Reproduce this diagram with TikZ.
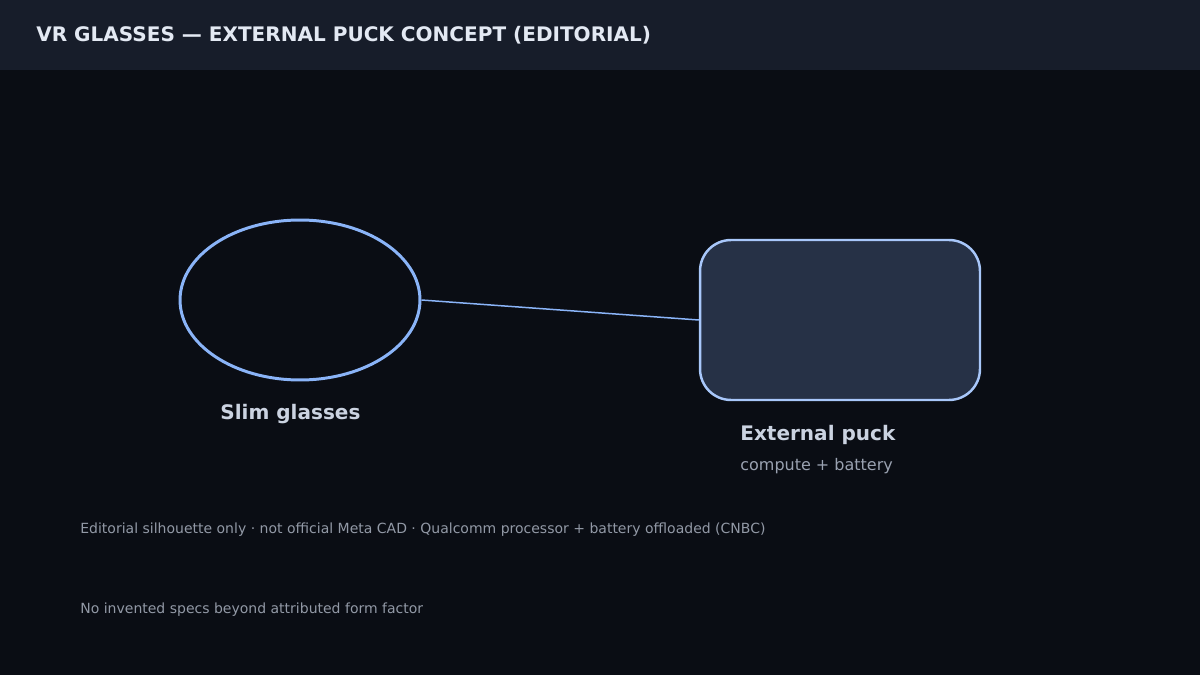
\documentclass[tikz,border=0pt]{standalone}
\usepackage{fontspec}
\setmainfont{DejaVu Sans}
\usetikzlibrary{shapes.geometric}
\definecolor{mybg}{HTML}{0A0D14}
\definecolor{myheader}{HTML}{171D2A}
\definecolor{myline}{HTML}{8AB4F8}
\definecolor{myedge}{HTML}{A8C7FA}
\definecolor{mypuck}{HTML}{263146}
\definecolor{mytitle}{HTML}{E3E9F3}
\definecolor{mylabel}{HTML}{CBD3E1}
\definecolor{mysub}{HTML}{9AA2B1}
\definecolor{mynote}{HTML}{9299A6}
\tikzstyle{glassbox} = [draw=myline, line width=1.7pt, ellipse,
    minimum width=4.8cm, minimum height=3.2cm, inner sep=0]
\tikzstyle{puckbox} = [draw=myedge, line width=1.4pt, fill=mypuck,
    rounded corners=0.62cm, minimum width=5.6cm, minimum height=3.2cm, inner sep=0]
\tikzstyle{label} = [anchor=base west, inner sep=0, text=mylabel,
    font=\fontsize{11.4}{13}\selectfont\bfseries]
\tikzstyle{note} = [anchor=base west, inner sep=0, text=mynote,
    font=\fontsize{7.97}{9}\selectfont]

\begin{document}
\begin{tikzpicture}[x=0.02cm, y=-0.02cm]
% background and header band
\fill[mybg] (0,0) rectangle (1200,675);
\fill[myheader] (0,0) rectangle (1200,70);
\useasboundingbox (0,0) rectangle (1200,675);

\node[anchor=base west, inner sep=0, text=mytitle,
    font=\fontsize{11.4}{13}\selectfont\bfseries] (title) at (36,42) {VR GLASSES — EXTERNAL PUCK CONCEPT (EDITORIAL)};

%%% GLASSES
\node[glassbox] (glasses) at (300,300) {};
\node[label] (glabel) at (220,419) {Slim glasses};

%%% PUCK
\node[puckbox] (puck) at (840,320) {};
\node[label] (plabel) at (740,440) {External puck};
\node[anchor=base west, inner sep=0, text=mysub,
    font=\fontsize{9.1}{11}\selectfont] (psub) at (740,470) {compute + battery};

% tether
\draw[myline, line width=0.85pt] (glasses.east) -- (puck.west);

%%% NOTES
\node[note] (note1) at (80,533) {Editorial silhouette only · not official Meta CAD · Qualcomm processor + battery offloaded (CNBC)};
\node[note] (note2) at (80,613) {No invented specs beyond attributed form factor};
\end{tikzpicture}
\end{document}
